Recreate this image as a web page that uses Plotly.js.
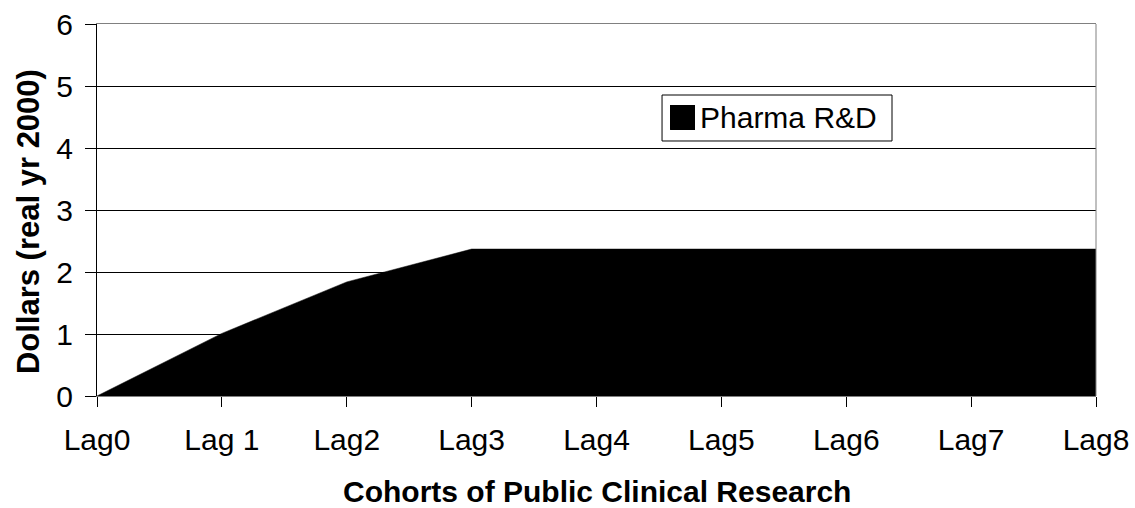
<!DOCTYPE html>
<html>
<head>
<meta charset="utf-8">
<script src="https://cdn.plot.ly/plotly-3.0.1.min.js"></script>
<style>html,body{margin:0;padding:0;background:#fff;}#chart{width:1135px;height:508px;}</style>
</head>
<body>
<div id="chart"></div>
<script>
const categories = ["Lag0", "Lag 1", "Lag2", "Lag3", "Lag4", "Lag5", "Lag6", "Lag7", "Lag8"];
const pharmaRD = [0, 1.01, 1.84, 2.37, 2.37, 2.37, 2.37, 2.37, 2.37];
const seriesName = "Pharma R&D";
const xTitle = "Cohorts of Public Clinical Research";
const yTitle = "Dollars (real yr 2000)";

const xIdx = categories.map((c, i) => i);
const font = "Liberation Sans, Arial, sans-serif";

const trace = {
  x: xIdx,
  y: pharmaRD,
  type: "scatter",
  mode: "lines",
  fill: "tozeroy",
  fillcolor: "#000000",
  line: {color: "#000000", width: 0.5},
  name: seriesName,
  showlegend: false,
  hoverinfo: "skip"
};

const layout = {
  width: 1135,
  height: 508,
  margin: {l: 97, r: 39, t: 24, b: 112},
  paper_bgcolor: "#ffffff",
  plot_bgcolor: "#ffffff",
  font: {family: font, size: 30, color: "#000"},
  showlegend: false,
  xaxis: {
    range: [0, 8],
    tickmode: "array",
    tickvals: xIdx,
    ticktext: categories,
    ticks: "outside", ticklen: 10, tickwidth: 1, tickcolor: "#000",
    showgrid: false, zeroline: false,
    showline: true, linecolor: "#808080", linewidth: 1, mirror: true,
    tickfont: {family: font, size: 30, color: "#000"},
    ticklabelstandoff: 7,
    fixedrange: true
  },
  yaxis: {
    range: [0, 6],
    dtick: 1,
    ticks: "outside", ticklen: 11, tickwidth: 1, tickcolor: "#000",
    showgrid: true, gridcolor: "#000000", gridwidth: 1,
    zeroline: false,
    showline: true, linecolor: "#000000", linewidth: 1,
    tickfont: {family: font, size: 30, color: "#000"},
    ticklabelstandoff: 6,
    fixedrange: true
  },
  shapes: [
    {type: "line", xref: "paper", yref: "paper", x0: 1, x1: 1, y0: 0, y1: 1,
     line: {color: "#808080", width: 1}},
    {type: "rect", xref: "paper", yref: "paper", x0: 0.5656, x1: 0.7958, y0: 0.6855, y1: 0.8091,
     fillcolor: "#ffffff", line: {color: "#000000", width: 1}},
    {type: "rect", xref: "paper", yref: "paper", x0: 0.5736, x1: 0.5986, y0: 0.7151, y1: 0.7823,
     fillcolor: "#000000", line: {color: "#000000", width: 0}}
  ],
  annotations: [
    {text: seriesName, xref: "paper", yref: "paper", x: 0.6016, y: 0.7487,
     xanchor: "left", yanchor: "middle", showarrow: false,
     font: {family: font, size: 30, color: "#000"}},
    {text: "<b>" + xTitle + "</b>", xref: "paper", yref: "paper", x: 0.5, y: -0.2555,
     xanchor: "center", yanchor: "middle", showarrow: false, height: 32,
     font: {family: font, size: 30, color: "#000"}},
    {text: "<b>" + yTitle + "</b>", xref: "paper", yref: "paper", x: -0.069, y: 0.4677,
     xanchor: "center", yanchor: "middle", textangle: -90, showarrow: false,
     font: {family: font, size: 31, color: "#000"}}
  ]
};

Plotly.newPlot("chart", [trace], layout, {displayModeBar: false, staticPlot: true});
</script>
</body>
</html>
